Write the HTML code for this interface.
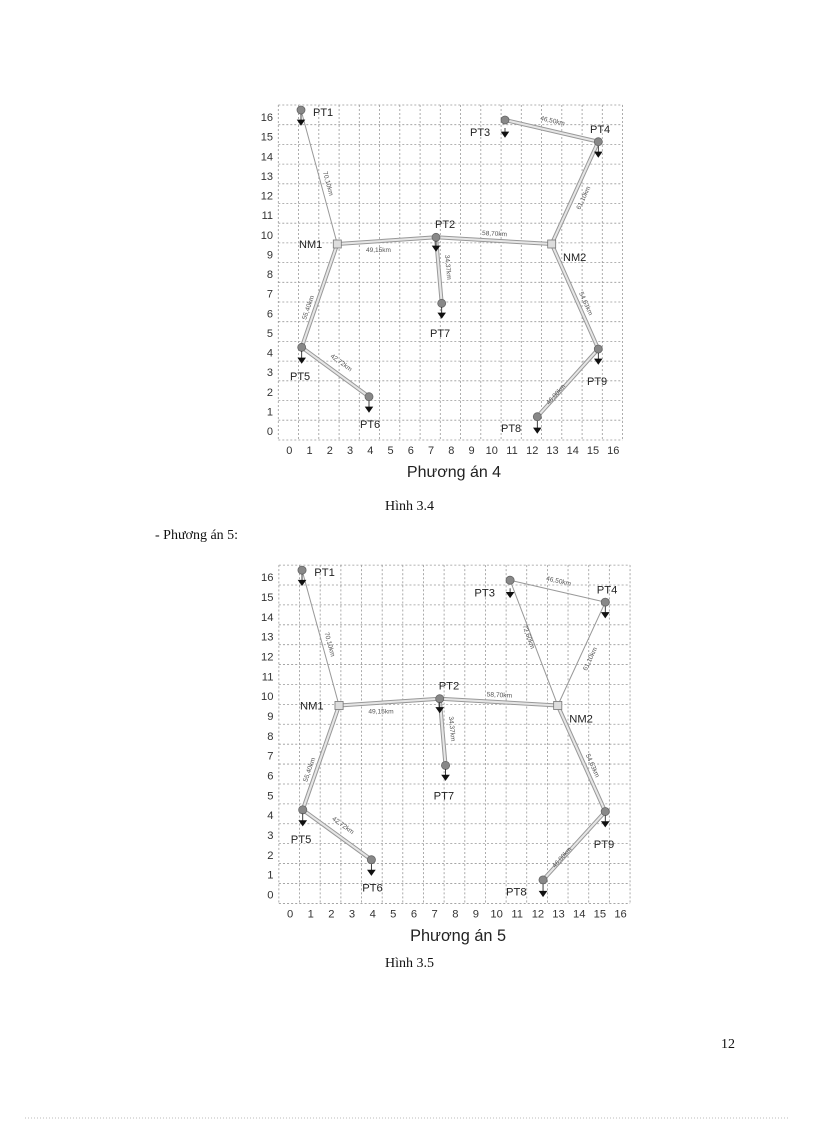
<!DOCTYPE html>
<html><head><meta charset="utf-8"><style>
body{margin:0;background:#fff;}
.page{position:relative;width:816px;height:1123px;overflow:hidden;font-family:"Liberation Serif",serif;}
.t{position:absolute;font-size:14px;color:#111;}
svg{position:absolute;left:0;top:0;}
.g line{stroke:#999;stroke-width:0.8;stroke-dasharray:2,2;}
.ax{font-family:"Liberation Sans",sans-serif;font-size:11px;fill:#333;}
.lb{font-family:"Liberation Sans",sans-serif;font-size:11px;fill:#222;}
.km{font-family:"Liberation Sans",sans-serif;font-size:6.5px;fill:#555;}
</style></head><body><div class="page">
<svg width="816" height="1123">
<defs>
<g id="grid" class="g">
<line x1="28.3" y1="10" x2="28.3" y2="345"/><line x1="48.6" y1="10" x2="48.6" y2="345"/><line x1="68.8" y1="10" x2="68.8" y2="345"/><line x1="89.1" y1="10" x2="89.1" y2="345"/><line x1="109.3" y1="10" x2="109.3" y2="345"/><line x1="129.6" y1="10" x2="129.6" y2="345"/><line x1="149.8" y1="10" x2="149.8" y2="345"/><line x1="170.1" y1="10" x2="170.1" y2="345"/><line x1="190.3" y1="10" x2="190.3" y2="345"/><line x1="210.6" y1="10" x2="210.6" y2="345"/><line x1="230.8" y1="10" x2="230.8" y2="345"/><line x1="251.1" y1="10" x2="251.1" y2="345"/><line x1="271.3" y1="10" x2="271.3" y2="345"/><line x1="291.6" y1="10" x2="291.6" y2="345"/><line x1="311.8" y1="10" x2="311.8" y2="345"/><line x1="332.1" y1="10" x2="332.1" y2="345"/><line x1="352.3" y1="10" x2="352.3" y2="345"/><line x1="372.6" y1="10" x2="372.6" y2="345"/>
<line x1="28.3" y1="10" x2="372.6" y2="10"/><line x1="28.3" y1="29.7" x2="372.6" y2="29.7"/><line x1="28.3" y1="49.4" x2="372.6" y2="49.4"/><line x1="28.3" y1="69.1" x2="372.6" y2="69.1"/><line x1="28.3" y1="88.8" x2="372.6" y2="88.8"/><line x1="28.3" y1="108.5" x2="372.6" y2="108.5"/><line x1="28.3" y1="128.2" x2="372.6" y2="128.2"/><line x1="28.3" y1="147.9" x2="372.6" y2="147.9"/><line x1="28.3" y1="167.6" x2="372.6" y2="167.6"/><line x1="28.3" y1="187.3" x2="372.6" y2="187.3"/><line x1="28.3" y1="207" x2="372.6" y2="207"/><line x1="28.3" y1="226.7" x2="372.6" y2="226.7"/><line x1="28.3" y1="246.4" x2="372.6" y2="246.4"/><line x1="28.3" y1="266.1" x2="372.6" y2="266.1"/><line x1="28.3" y1="285.8" x2="372.6" y2="285.8"/><line x1="28.3" y1="305.5" x2="372.6" y2="305.5"/><line x1="28.3" y1="325.2" x2="372.6" y2="325.2"/><line x1="28.3" y1="345" x2="372.6" y2="345"/>
</g>
<g id="axes" class="ax">
<g text-anchor="middle">
<text x="39.3" y="359">0</text><text x="59.5" y="359">1</text><text x="79.8" y="359">2</text><text x="100" y="359">3</text><text x="120.3" y="359">4</text><text x="140.5" y="359">5</text><text x="160.8" y="359">6</text><text x="181" y="359">7</text><text x="201.3" y="359">8</text><text x="221.5" y="359">9</text><text x="241.8" y="359">10</text><text x="262" y="359">11</text><text x="282.3" y="359">12</text><text x="302.5" y="359">13</text><text x="322.8" y="359">14</text><text x="343" y="359">15</text><text x="363.3" y="359">16</text>
</g>
<g text-anchor="end">
<text x="23" y="26">16</text><text x="23" y="45.6">15</text><text x="23" y="65.3">14</text><text x="23" y="84.9">13</text><text x="23" y="104.5">12</text><text x="23" y="124.2">11</text><text x="23" y="143.8">10</text><text x="23" y="163.4">9</text><text x="23" y="183">8</text><text x="23" y="202.7">7</text><text x="23" y="222.3">6</text><text x="23" y="241.9">5</text><text x="23" y="261.6">4</text><text x="23" y="281.2">3</text><text x="23" y="300.8">2</text><text x="23" y="320.4">1</text><text x="23" y="340">0</text>
</g>
</g>
<g id="dbl">
</g>
<g id="nodes">
<g fill="#888" stroke="#666" stroke-width="0.8">
<circle cx="51" cy="15" r="4"/><circle cx="255" cy="25" r="4"/><circle cx="348.3" cy="46.7" r="4"/><circle cx="186" cy="142.3" r="4"/><circle cx="191.7" cy="208.3" r="4"/><circle cx="51.7" cy="252.3" r="4"/><circle cx="119" cy="301.7" r="4"/><circle cx="348.3" cy="254" r="4"/><circle cx="287.3" cy="321.7" r="4"/>
</g>
<rect x="83.3" y="145" width="8" height="8" fill="#ddd" stroke="#777" stroke-width="0.8"/>
<rect x="297.7" y="145" width="8" height="8" fill="#ddd" stroke="#777" stroke-width="0.8"/>
<g fill="#111" stroke="#111" stroke-width="0.8">
<line x1="51" y1="19" x2="51" y2="26"/><path d="M47.5 25h7l-3.5 5z"/>
<line x1="255" y1="33" x2="255" y2="38"/><path d="M251.5 37h7l-3.5 5z"/>
<line x1="348.3" y1="51" x2="348.3" y2="58"/><path d="M344.8 57h7l-3.5 5z"/>
<line x1="186" y1="146" x2="186" y2="152"/><path d="M182.5 151h7l-3.5 5z"/>
<line x1="191.7" y1="212" x2="191.7" y2="219"/><path d="M188.2 218h7l-3.5 5z"/>
<line x1="51.7" y1="256" x2="51.7" y2="264"/><path d="M48.2 263h7l-3.5 5z"/>
<line x1="119" y1="306" x2="119" y2="313"/><path d="M115.5 312h7l-3.5 5z"/>
<line x1="348.3" y1="258" x2="348.3" y2="265"/><path d="M344.8 264h7l-3.5 5z"/>
<line x1="287.3" y1="326" x2="287.3" y2="334"/><path d="M283.8 333h7l-3.5 5z"/>
</g>
<g class="lb">
<text x="63" y="21">PT1</text><text x="220" y="41">PT3</text><text x="340" y="38">PT4</text><text x="49" y="153">NM1</text><text x="185" y="133">PT2</text><text x="313" y="166">NM2</text><text x="180" y="242">PT7</text><text x="40" y="285">PT5</text><text x="110" y="333">PT6</text><text x="337" y="290">PT9</text><text x="251" y="337">PT8</text>
</g>
</g>
</defs>

<!-- Chart 1 -->
<g transform="translate(250,95)">
<use href="#grid"/><use href="#axes"/>
<g fill="none" stroke-linecap="round">
<line x1="51" y1="15" x2="87.3" y2="149" stroke="#999" stroke-width="1"/>
<g stroke="#999" stroke-width="4">
<line x1="255" y1="25" x2="348.3" y2="46.7"/><line x1="348.3" y1="46.7" x2="301.7" y2="149"/>
<line x1="87.3" y1="149" x2="186" y2="142.3"/><line x1="186" y1="142.3" x2="301.7" y2="149"/>
<line x1="186" y1="142.3" x2="191.7" y2="208.3"/><line x1="87.3" y1="149" x2="51.7" y2="252.3"/>
<line x1="51.7" y1="252.3" x2="119" y2="301.7"/><line x1="301.7" y1="149" x2="348.3" y2="254"/>
<line x1="348.3" y1="254" x2="287.3" y2="321.7"/></g>
<g stroke="#e6e6e6" stroke-width="2">
<line x1="255" y1="25" x2="348.3" y2="46.7"/><line x1="348.3" y1="46.7" x2="301.7" y2="149"/>
<line x1="87.3" y1="149" x2="186" y2="142.3"/><line x1="186" y1="142.3" x2="301.7" y2="149"/>
<line x1="186" y1="142.3" x2="191.7" y2="208.3"/><line x1="87.3" y1="149" x2="51.7" y2="252.3"/>
<line x1="51.7" y1="252.3" x2="119" y2="301.7"/><line x1="301.7" y1="149" x2="348.3" y2="254"/>
<line x1="348.3" y1="254" x2="287.3" y2="321.7"/></g>
</g>
<g class="km">
<text transform="translate(73,77) rotate(75)">70,10km</text>
<text transform="translate(290,25) rotate(13)">46,50km</text>
<text transform="translate(330,115) rotate(-65)">61,10km</text>
<text x="116" y="157">49,15km</text>
<text transform="translate(232,140) rotate(3)">58,70km</text>
<text transform="translate(195,160) rotate(85)">34,37km</text>
<text transform="translate(56,225) rotate(-71)">55,40km</text>
<text transform="translate(80,262) rotate(36)">42,72km</text>
<text transform="translate(329,198) rotate(66)">54,63km</text>
<text transform="translate(299,310) rotate(-48)">46,00km</text>
</g>
<use href="#nodes"/>
<text x="204" y="382" text-anchor="middle" style="font-family:'Liberation Sans',sans-serif;font-size:16px;fill:#222">Phương án 4</text>
</g>

<!-- Chart 2 -->
<g transform="translate(250,555) scale(1.02,1.01)">
<use href="#grid"/><use href="#axes"/>
<g fill="none" stroke-linecap="round">
<g stroke="#999" stroke-width="1">
<line x1="51" y1="15" x2="87.3" y2="149"/>
<line x1="255" y1="25" x2="348.3" y2="46.7"/><line x1="348.3" y1="46.7" x2="301.7" y2="149"/>
<line x1="255" y1="25" x2="301.7" y2="149"/></g>
<g stroke="#999" stroke-width="4">
<line x1="87.3" y1="149" x2="186" y2="142.3"/><line x1="186" y1="142.3" x2="301.7" y2="149"/>
<line x1="186" y1="142.3" x2="191.7" y2="208.3"/><line x1="87.3" y1="149" x2="51.7" y2="252.3"/>
<line x1="51.7" y1="252.3" x2="119" y2="301.7"/><line x1="301.7" y1="149" x2="348.3" y2="254"/>
<line x1="348.3" y1="254" x2="287.3" y2="321.7"/></g>
<g stroke="#e6e6e6" stroke-width="2">
<line x1="87.3" y1="149" x2="186" y2="142.3"/><line x1="186" y1="142.3" x2="301.7" y2="149"/>
<line x1="186" y1="142.3" x2="191.7" y2="208.3"/><line x1="87.3" y1="149" x2="51.7" y2="252.3"/>
<line x1="51.7" y1="252.3" x2="119" y2="301.7"/><line x1="301.7" y1="149" x2="348.3" y2="254"/>
<line x1="348.3" y1="254" x2="287.3" y2="321.7"/></g>
</g>
<g class="km">
<text transform="translate(73,77) rotate(75)">70,10km</text>
<text transform="translate(290,25) rotate(13)">46,50km</text>
<text transform="translate(267,70) rotate(70)">72,60km</text>
<text transform="translate(330,115) rotate(-65)">61,10km</text>
<text x="116" y="157">49,15km</text>
<text transform="translate(232,140) rotate(3)">58,70km</text>
<text transform="translate(195,160) rotate(85)">34,37km</text>
<text transform="translate(56,225) rotate(-71)">55,40km</text>
<text transform="translate(80,262) rotate(36)">42,72km</text>
<text transform="translate(329,198) rotate(66)">54,63km</text>
<text transform="translate(299,310) rotate(-48)">46,00km</text>
</g>
<use href="#nodes"/>
<text x="204" y="382" text-anchor="middle" style="font-family:'Liberation Sans',sans-serif;font-size:16px;fill:#222">Phương án 5</text>
</g>
<line x1="25" y1="1118" x2="790" y2="1118" stroke="#bbb" stroke-width="1" stroke-dasharray="1,2"/>
</svg>
<div class="t" style="left:385px;top:499px;">Hình 3.4</div>
<div class="t" style="left:155px;top:528px;">- Phương án 5:</div>
<div class="t" style="left:385px;top:956px;">Hình 3.5</div>
<div class="t" style="left:721px;top:1037px;">12</div>
</div></body></html>
